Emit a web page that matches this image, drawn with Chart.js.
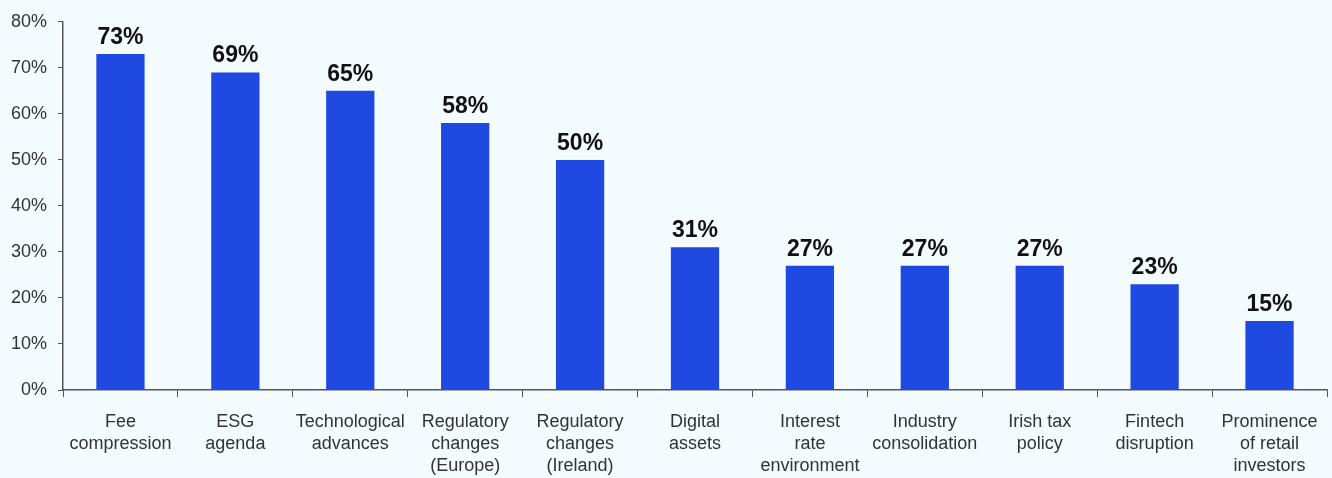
<!DOCTYPE html>
<html>
<head>
<meta charset="utf-8">
<script src="https://cdn.jsdelivr.net/npm/chart.js@4/dist/chart.umd.min.js"></script>
<style>
  html, body { margin: 0; padding: 0; background: #f3fbfe; }
  #wrap { width: 1332px; height: 478px; position: relative; }
</style>
</head>
<body>
<div id="wrap"><canvas id="chart"></canvas></div>
<script>
const categories = [
    ["Fee", "compression"],
    ["ESG", "agenda"],
    ["Technological", "advances"],
    ["Regulatory", "changes", "(Europe)"],
    ["Regulatory", "changes", "(Ireland)"],
    ["Digital", "assets"],
    ["Interest", "rate", "environment"],
    ["Industry", "consolidation"],
    ["Irish tax", "policy"],
    ["Fintech", "disruption"],
    ["Prominence", "of retail", "investors"]
];
const values = [73, 69, 65, 58, 50, 31, 27, 27, 27, 23, 15];
const yTicks = [0, 10, 20, 30, 40, 50, 60, 70, 80];

const axisColor = "#555555";
const textColor = "#333333";
const fontFamily = "'Liberation Sans', Arial, sans-serif";

// labels above bars
const valueLabels = {
    id: "valueLabels",
    afterDatasetsDraw(chart) {
        const ctx = chart.ctx;
        const meta = chart.getDatasetMeta(0);
        ctx.save();
        ctx.font = "bold 23px " + fontFamily;
        ctx.fillStyle = "#111111";
        ctx.textAlign = "center";
        ctx.textBaseline = "bottom";
        meta.data.forEach((bar, i) => {
            ctx.fillText(values[i] + "%", bar.x, bar.y - 5);
        });
        ctx.restore();
    }
};

new Chart(document.getElementById("chart"), {
    type: "bar",
    data: {
        labels: categories,
        datasets: [{
            data: values,
            backgroundColor: "#1f49e0",
            barPercentage: 0.84,
            categoryPercentage: 0.5
        }]
    },
    options: {
        responsive: true,
        maintainAspectRatio: false,
        animation: false,
        layout: { padding: { top: 20, right: 5, left: 0, bottom: 0 } },
        plugins: {
            legend: { display: false },
            tooltip: { enabled: false }
        },
        scales: {
            x: {
                grid: {
                    offset: true,
                    drawOnChartArea: false,
                    drawTicks: true,
                    tickLength: 7,
                    color: axisColor
                },
                border: { color: axisColor, width: 1.5 },
                ticks: {
                    color: textColor,
                    font: { family: fontFamily, size: 18, lineHeight: 1.22 },
                    maxRotation: 0,
                    autoSkip: false,
                    padding: 14
                },
                afterFit(scale) { scale.height = 88; }
            },
            y: {
                min: 0,
                max: 80,
                afterBuildTicks(scale) {
                    scale.ticks = yTicks.map(v => ({ value: v }));
                },
                grid: {
                    drawOnChartArea: false,
                    drawTicks: true,
                    tickLength: 5,
                    color: axisColor
                },
                border: { color: axisColor, width: 1.5 },
                ticks: {
                    color: textColor,
                    font: { family: fontFamily, size: 18 },
                    padding: 11,
                    callback: v => v + "%"
                },
                afterFit(scale) { scale.width = 63; }
            }
        }
    },
    plugins: [valueLabels]
});
</script>
</body>
</html>
